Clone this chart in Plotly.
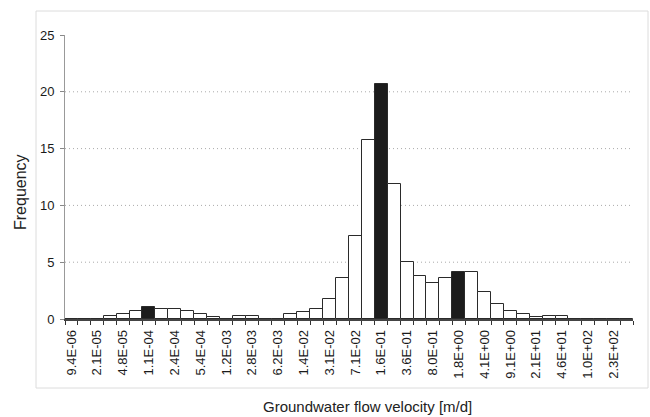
import plotly.graph_objects as go

# Category labels (every category; only even ones are printed on the axis)
categories = [
    "9.4E-06", "1.4E-05", "2.1E-05", "3.2E-05", "4.8E-05", "7.2E-05",
    "1.1E-04", "1.6E-04", "2.4E-04", "3.6E-04", "5.4E-04", "8.1E-04",
    "1.2E-03", "1.8E-03", "2.8E-03", "4.1E-03", "6.2E-03", "9.3E-03",
    "1.4E-02", "2.1E-02", "3.1E-02", "4.7E-02", "7.1E-02", "1.1E-01",
    "1.6E-01", "2.4E-01", "3.6E-01", "5.4E-01", "8.0E-01", "1.2E+00",
    "1.8E+00", "2.7E+00", "4.1E+00", "6.1E+00", "9.1E+00", "1.4E+01",
    "2.1E+01", "3.1E+01", "4.6E+01", "6.9E+01", "1.0E+02", "1.5E+02",
    "2.3E+02", "3.5E+02",
]

frequency = [
    0, 0, 0, 0.23, 0.47, 0.74, 1.07, 0.92, 0.92, 0.74, 0.40, 0.20,
    0, 0.23, 0.23, 0, 0, 0.44, 0.58, 0.92, 1.77, 3.60, 7.30, 15.80,
    20.70, 11.90, 5.00, 3.80, 3.15, 3.65, 4.10, 4.10, 2.40, 1.33, 0.72, 0.46,
    0.15, 0.23, 0.23, 0, 0, 0, 0, 0,
]

highlighted = ["1.1E-04", "1.6E-01", "1.8E+00"]
y_ticks = [0, 5, 10, 15, 20, 25]
grid_values = [5, 10, 15, 20]

idx = list(range(len(categories)))
colors = ["#1c1c1c" if c in highlighted else "white" for c in categories]
label_pos = idx[::2]
label_txt = categories[::2]

fig = go.Figure(go.Bar(
    x=idx, y=frequency,
    marker=dict(color=colors, line=dict(color="#2a2a2a", width=1)),
    width=1.0,
))

FONT = "Liberation Sans, Arial, sans-serif"

fig.update_layout(
    width=650, height=417,
    margin=dict(l=65, r=17, t=35, b=98),
    paper_bgcolor="white", plot_bgcolor="white",
    bargap=0, showlegend=False,
    font=dict(family=FONT, color="#222"),
)

fig.update_xaxes(
    range=[-0.5, len(categories) - 0.5],
    tickmode="array", tickvals=label_pos, ticktext=label_txt,
    tickangle=-90, tickfont=dict(size=13, color="#1a1a1a"),
    ticks="outside", ticklen=4, tickcolor="rgba(0,0,0,0)",
    minor=dict(tickmode="array", tickvals=[i - 0.5 for i in range(len(categories) + 1)],
               ticks="outside", ticklen=4, tickcolor="#333", tickwidth=1),
    showline=True, linecolor="#444", linewidth=1.5,
    showgrid=False, zeroline=False,
)

fig.update_yaxes(
    range=[0, 25], tickmode="array", tickvals=y_ticks,
    tickfont=dict(size=13, color="#1a1a1a"),
    ticks="outside", ticklen=4, tickcolor="#888",
    ticklabelstandoff=3,
    showline=True, linecolor="#999", linewidth=1,
    showgrid=False, zeroline=False,
)

for g in grid_values:
    fig.add_shape(type="line", xref="paper", yref="y", x0=0, x1=1, y0=g, y1=g,
                  line=dict(color="#aaa", width=1, dash="1px,3px"), layer="below")

# chart-area frame
pw, ph = 650 - 65 - 17, 417 - 35 - 98
fig.add_shape(type="rect", xref="paper", yref="paper",
              x0=(36 - 65) / pw, x1=(648 - 65) / pw,
              y0=(417 - 98 - 388) / ph, y1=(417 - 98 - 11) / ph,
              line=dict(color="#dcdcdc", width=1), fillcolor="rgba(0,0,0,0)", layer="below")

fig.add_annotation(text="Frequency", xref="paper", yref="paper",
                   x=(20 - 65) / pw, y=(417 - 98 - 192) / ph, textangle=-90,
                   showarrow=False, font=dict(size=16, color="#222"),
                   xanchor="center", yanchor="middle")
fig.add_annotation(text="Groundwater flow velocity [m/d]", xref="paper", yref="paper",
                   x=(367 - 65) / pw, y=(417 - 98 - 406) / ph,
                   showarrow=False, font=dict(size=15, color="#222"),
                   xanchor="center", yanchor="middle")

fig.write_html("out.html")
